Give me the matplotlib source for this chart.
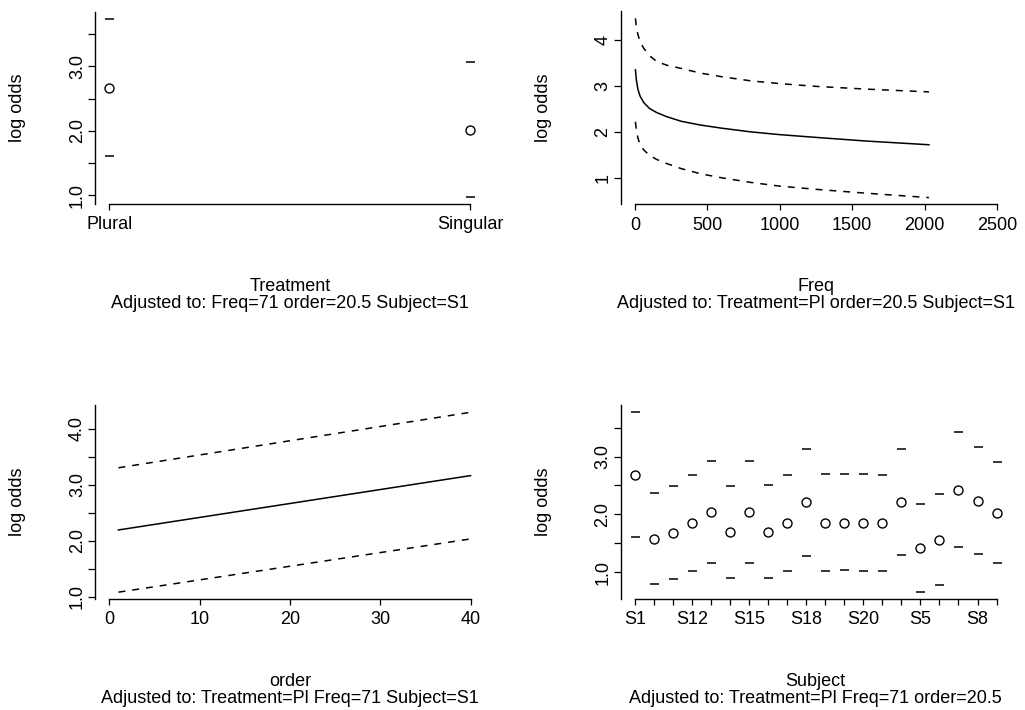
import matplotlib
matplotlib.use("Agg")
import matplotlib.pyplot as plt
import numpy as np

plt.rcParams['font.family'] = ['Liberation Sans', 'DejaVu Sans']
plt.rcParams['lines.scale_dashes'] = False

# ---------------- data ----------------
treat_levels = ["Plural", "Singular"]
treat_est = [2.674, 2.015]
treat_upper = [3.736, 3.071]
treat_lower = [1.607, 0.974]

freq_x = [3, 10, 20, 35, 60, 100, 150, 220, 320, 450, 600, 800, 1000, 1250, 1600, 2030]
freq_est = [3.35, 3.12, 2.93, 2.78, 2.64, 2.51, 2.42, 2.33, 2.23, 2.15, 2.08, 2.00, 1.94, 1.88, 1.80, 1.72]
freq_upper = [4.47, 4.28, 4.12, 3.97, 3.82, 3.66, 3.53, 3.45, 3.38, 3.28, 3.20, 3.11, 3.05, 2.99, 2.93, 2.87]
freq_lower = [2.22, 2.03, 1.87, 1.72, 1.61, 1.49, 1.40, 1.31, 1.20, 1.09, 1.00, 0.90, 0.82, 0.75, 0.665, 0.57]

order_x = [1, 40]
order_est = [2.19, 3.16]
order_upper = [3.30, 4.29]
order_lower = [1.08, 2.03]

subjects = ["S1", "S10", "S11", "S12", "S13", "S14", "S15", "S16", "S17", "S18",
            "S19", "S2", "S20", "S3", "S4", "S5", "S6", "S7", "S8", "S9"]
subj_est = [2.678, 1.575, 1.684, 1.845, 2.040, 1.690, 2.040, 1.701, 1.851, 2.207,
            1.862, 1.862, 1.862, 1.845, 2.213, 1.420, 1.563, 2.425, 2.241, 2.034]
subj_upper = [3.764, 2.374, 2.489, 2.678, 2.925, 2.489, 2.925, 2.506, 2.678, 3.126,
              2.695, 2.695, 2.695, 2.678, 3.126, 2.178, 2.351, 3.425, 3.167, 2.908]
subj_lower = [1.609, 0.810, 0.885, 1.023, 1.167, 0.902, 1.167, 0.902, 1.023, 1.287,
              1.023, 1.040, 1.023, 1.023, 1.305, 0.667, 0.782, 1.443, 1.322, 1.167]

sublabels = [
    "Adjusted to: Freq=71 order=20.5 Subject=S1",
    "Adjusted to: Treatment=Pl order=20.5 Subject=S1",
    "Adjusted to: Treatment=Pl Freq=71 Subject=S1",
    "Adjusted to: Treatment=Pl Freq=71 order=20.5",
]

# ---------------- layout ----------------
W, H = 1025, 710
fig = plt.figure(figsize=(W / 100, H / 100), dpi=100)

def make_ax(l, r, t, b):
    return fig.add_axes([l / W, 1 - b / H, (r - l) / W, (b - t) / H])

ax1 = make_ax(95, 484.5, 12, 204)
ax2 = make_ax(620.5, 1011.5, 11, 204.5)
ax3 = make_ax(95, 485, 405, 599)
ax4 = make_ax(620.5, 1011, 405, 599)

FS = 13.0
PX = 0.72  # points per pixel

def style(ax, yticks, ylabels, xlab, sub):
    for s in ['top', 'right']:
        ax.spines[s].set_visible(False)
    for s in ['left', 'bottom']:
        ax.spines[s].set_linewidth(1.0)
    ax.set_yticks(yticks)
    ax.set_yticklabels(ylabels, rotation=90, va='center', fontsize=FS)
    ax.tick_params(axis='y', length=7 * PX, width=0.9, pad=1.5)
    ax.tick_params(axis='x', length=6 * PX, width=0.9, pad=4.5, labelsize=FS)
    ax.annotate("log odds", xy=(0, 0.5), xycoords='axes fraction',
                xytext=(-77 * PX, 0), textcoords='offset points',
                rotation=90, ha='center', va='center', fontsize=FS)
    ax.annotate(xlab, xy=(0.5, 0), xycoords='axes fraction',
                xytext=(0, -82 * PX), textcoords='offset points',
                ha='center', va='center', fontsize=FS)
    ax.annotate(sub, xy=(0.5, 0), xycoords='axes fraction',
                xytext=(0, -99.5 * PX), textcoords='offset points',
                ha='center', va='center', fontsize=FS, annotation_clip=False)

circ = dict(marker='o', markersize=9 * PX, markerfacecolor='white',
            markeredgecolor='black', markeredgewidth=1.0, linestyle='none')
bar = dict(marker='_', markersize=9 * PX, markeredgewidth=1.1, color='black',
           linestyle='none')
dash = (0, (5.0, 5.0))

# Panel 1: Treatment
xt = np.arange(1, len(treat_levels) + 1)
ax1.plot(xt, treat_upper, **bar)
ax1.plot(xt, treat_lower, **bar)
ax1.plot(xt, treat_est, **circ)
ax1.set_xlim(0.96, 2.04)
ax1.set_ylim(0.868, 3.845)
ax1.set_xticks(xt)
ax1.set_xticklabels(treat_levels)
ax1.spines['bottom'].set_bounds(1, 2)
style(ax1, [1.0, 1.5, 2.0, 2.5, 3.0, 3.5], ["1.0", "", "2.0", "", "3.0", ""],
      "Treatment", sublabels[0])

# Panel 2: Freq
ax2.plot(freq_x, freq_est, color='black', lw=1.1)
ax2.plot(freq_x, freq_upper, color='black', lw=1.1, linestyle=dash)
ax2.plot(freq_x, freq_lower, color='black', lw=1.1, linestyle=dash)
ax2.set_xlim(-100, 2600)
ax2.set_ylim(0.42, 4.63)
ax2.set_xticks([0, 500, 1000, 1500, 2000, 2500])
ax2.set_xticklabels(["0", "500", "1000", "1500", "2000", "2500"])
ax2.spines['bottom'].set_bounds(0, 2500)
style(ax2, [1, 2, 3, 4], ["1", "2", "3", "4"], "Freq", sublabels[1])

# Panel 3: order
ax3.plot(order_x, order_est, color='black', lw=1.1)
ax3.plot(order_x, order_upper, color='black', lw=1.1, linestyle=dash)
ax3.plot(order_x, order_lower, color='black', lw=1.1, linestyle=dash)
ax3.set_xlim(-1.6, 41.6)
ax3.set_ylim(0.958, 4.42)
ax3.set_xticks([0, 10, 20, 30, 40])
ax3.set_xticklabels(["0", "10", "20", "30", "40"])
ax3.spines['bottom'].set_bounds(0, 40)
style(ax3, [1.0, 1.5, 2.0, 2.5, 3.0, 3.5, 4.0],
      ["1.0", "", "2.0", "", "3.0", "", "4.0"], "order", sublabels[2])

# Panel 4: Subject
xs = np.arange(1, len(subjects) + 1)
ax4.plot(xs, subj_upper, **bar)
ax4.plot(xs, subj_lower, **bar)
ax4.plot(xs, subj_est, **circ)
ax4.set_xlim(0.24, 20.76)
ax4.set_ylim(0.543, 3.888)
ax4.set_xticks(xs)
ax4.set_xticklabels([s if i % 3 == 0 else "" for i, s in enumerate(subjects)])
ax4.spines['bottom'].set_bounds(1, 20)
style(ax4, [1.0, 1.5, 2.0, 2.5, 3.0, 3.5], ["1.0", "", "2.0", "", "3.0", ""],
      "Subject", sublabels[3])

fig.savefig("out.png", dpi=100)
